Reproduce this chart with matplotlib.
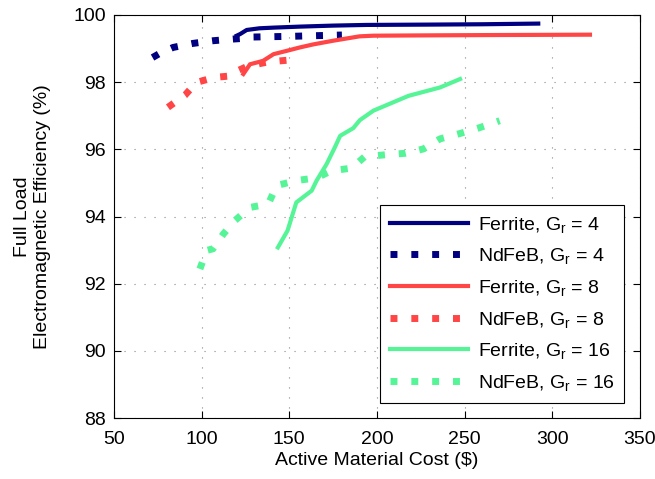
import matplotlib
matplotlib.use('Agg')
import matplotlib.pyplot as plt

plt.rcParams['font.family'] = ['Liberation Sans', 'DejaVu Sans']
plt.rcParams['mathtext.fontset'] = 'custom'
plt.rcParams['mathtext.rm'] = 'Liberation Sans'
plt.rcParams['mathtext.it'] = 'Liberation Sans:italic'

# Ferrite, Gr = 4
fer4_x = [120, 122, 125.7, 133, 141, 156, 175, 194, 230, 260, 292]
fer4_y = [99.38, 99.43, 99.55, 99.60, 99.62, 99.65, 99.68, 99.70, 99.71, 99.72, 99.74]
# NdFeB, Gr = 4
nd4_x = [72, 76, 83.7, 95, 106.5, 118, 124, 129, 150, 165, 180]
nd4_y = [98.73, 98.85, 99.03, 99.15, 99.23, 99.28, 99.30, 99.34, 99.36, 99.38, 99.40]
# Ferrite, Gr = 8
fer8_x = [123.8, 127.6, 135, 141, 148.6, 156, 163.6, 175, 190, 198, 230, 270, 321.5]
fer8_y = [98.24, 98.53, 98.63, 98.83, 98.93, 99.03, 99.12, 99.23, 99.36, 99.38, 99.39, 99.40, 99.41]
# NdFeB, Gr = 8
nd8_x = [80.8, 90.5, 97, 107.6, 116, 119, 126.6, 138, 149]
nd8_y = [97.25, 97.61, 97.99, 98.14, 98.18, 98.30, 98.48, 98.60, 98.65]
# Ferrite, Gr = 16
fer16_x = [143.5, 149, 154, 162.8, 165.6, 171.3, 176, 179, 186.5, 190.3, 198, 218, 236, 247.4]
fer16_y = [93.08, 93.58, 94.42, 94.77, 95.07, 95.56, 96.06, 96.4, 96.63, 96.87, 97.15, 97.59, 97.84, 98.09]
# NdFeB, Gr = 16
nd16_x = [99, 102.9, 106.5, 112.4, 119, 127.6, 138, 142.8, 154, 165.6, 174, 185.6, 193, 205.5,
          216, 226.5, 236, 247.4, 257.8, 267.3, 270]
nd16_y = [92.44, 92.99, 93.04, 93.48, 93.88, 94.27, 94.37, 94.92, 95.07, 95.15, 95.36, 95.44, 95.78,
          95.84, 95.88, 96.01, 96.31, 96.47, 96.63, 96.8, 96.85]

navy = '#000080'
red = '#ff4545'
green = '#55f597'
dot = (0, (1, 2))
fs = 14

fig = plt.figure(figsize=(6.55, 4.79), dpi=100)
ax = fig.add_axes([0.174, 0.127, 0.803, 0.842])

ax.plot(fer4_x, fer4_y, color=navy, lw=3, label='Ferrite, G$_\\mathregular{r}$ = 4')
ax.plot(nd4_x, nd4_y, color=navy, lw=5, linestyle=dot, label='NdFeB, G$_\\mathregular{r}$ = 4')
ax.plot(fer8_x, fer8_y, color=red, lw=3, label='Ferrite, G$_\\mathregular{r}$ = 8')
ax.plot(nd8_x, nd8_y, color=red, lw=5, linestyle=dot, label='NdFeB, G$_\\mathregular{r}$ = 8')
ax.plot(fer16_x, fer16_y, color=green, lw=3, label='Ferrite, G$_\\mathregular{r}$ = 16')
ax.plot(nd16_x, nd16_y, color=green, lw=5, linestyle=dot, label='NdFeB, G$_\\mathregular{r}$ = 16')

ax.set_xlim(50, 350)
ax.set_ylim(88, 100)
ax.set_xticks(range(50, 351, 50))
ax.set_yticks(range(88, 101, 2))
ax.tick_params(direction='in', top=True, right=True, labelsize=fs, length=5)
ax.tick_params(axis='x', pad=9)
ax.tick_params(axis='y', pad=6)
ax.grid(True, linestyle=(0, (1, 8)), color='#888888', lw=0.8)
ax.set_axisbelow(True)

ax.set_xlabel('Active Material Cost (\\$)', fontsize=fs, labelpad=3)
ax.set_ylabel('Full Load\nElectromagnetic Efficiency (%)', fontsize=fs, labelpad=16)

leg = ax.legend(loc='lower right', fontsize=fs, handlelength=4.0, labelspacing=0.6,
                fancybox=False, edgecolor='black', framealpha=1,
                borderaxespad=0.8, handletextpad=0.5, borderpad=0.5)
leg.get_frame().set_linewidth(0.8)

fig.savefig('out.png', dpi=100)
